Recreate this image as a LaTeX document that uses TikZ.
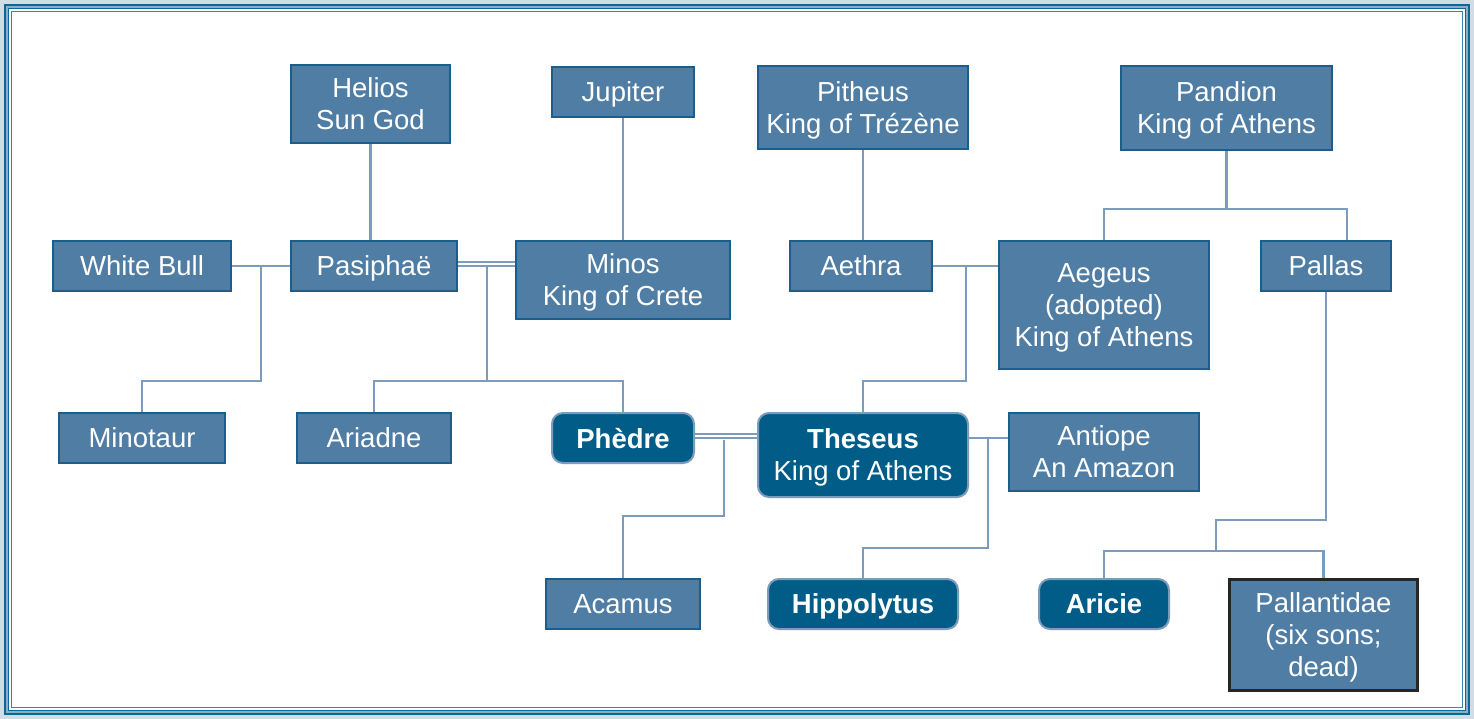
\documentclass[tikz,border=0pt]{standalone}
\usepackage{fontspec}
\setmainfont{Liberation Sans}
\definecolor{boxfill}{HTML}{507DA3}
\definecolor{boxline}{HTML}{1B5E8B}
\definecolor{darkfill}{HTML}{015D88}
\definecolor{darkline}{HTML}{7D9BBA}
\definecolor{connc}{HTML}{7D9BBA}
\definecolor{framebg}{HTML}{D2DCE6}
\definecolor{framedark}{HTML}{06699A}
\definecolor{framemid}{HTML}{8CAEC6}
\tikzset{
  box/.style={draw=boxline, fill=boxfill, line width=2pt, text=white, align=center, inner sep=0pt,
    font=\fontsize{27.5}{32}\selectfont, text depth=-5pt},
  hbox/.style={draw=darkline, fill=darkfill, line width=2pt, rounded corners=11pt, text=white, align=center, inner sep=0pt,
    font=\fontsize{27.5}{32}\selectfont\bfseries, text depth=-5pt},
  conn/.style={draw=connc, line width=2.5pt},
  dbl/.style={draw=connc, line width=2pt, double=white, double distance=2.6pt},
}
\begin{document}
\begin{tikzpicture}[x=1pt,y=-1pt]
\useasboundingbox (0,0) rectangle (1474,719);
% frame
\fill[framebg] (0,0) rectangle (1474,719);
\draw[framedark, line width=2pt] (5,5) rectangle (1469,714);
\fill[framemid] (6,6) rectangle (1468,713);
\draw[framedark, line width=1.3pt] (8.5,8.5) rectangle (1465.5,710.5);
\fill[white] (9.2,9.2) rectangle (1464.8,709.8);
\draw[framedark!80!white, line width=1pt] (11.5,11.5) rectangle (1462.5,707.5);

% nodes
\node[box, minimum width=159, minimum height=78] (helios) at (370.5,104) {Helios\\Sun God};
\node[box, minimum width=142, minimum height=50] (jupiter) at (623,92) {Jupiter};
\node[box, minimum width=210, minimum height=83] (pitheus) at (863,107.5) {Pitheus\\King of Trézène};
\node[box, minimum width=211, minimum height=84] (pandion) at (1226.5,108) {Pandion\\King of Athens};

\node[box, minimum width=178, minimum height=50] (whitebull) at (142,266) {White Bull};
\node[box, minimum width=166, minimum height=50] (pasiphae) at (374,266) {Pasiphaë};
\node[box, minimum width=214, minimum height=78] (minos) at (623,280) {Minos\\King of Crete};
\node[box, minimum width=142, minimum height=50] (aethra) at (861,266) {Aethra};
\node[box, minimum width=210, minimum height=128] (aegeus) at (1104,305) {Aegeus\\(adopted)\\King of Athens};
\node[box, minimum width=130, minimum height=50] (pallas) at (1326,266) {Pallas};

\node[box, minimum width=166, minimum height=50] (minotaur) at (142,438) {Minotaur};
\node[box, minimum width=154, minimum height=50] (ariadne) at (374,438) {Ariadne};
\node[hbox, minimum width=142, minimum height=50] (phedre) at (623,438) {Phèdre};
\node[hbox, minimum width=210, minimum height=84] (theseus) at (863,455) {Theseus\\\mdseries King of Athens};
\node[box, minimum width=190, minimum height=78] (antiope) at (1104,452) {Antiope\\An Amazon};

\node[box, minimum width=154, minimum height=50] (acamus) at (623,604) {Acamus};
\node[hbox, minimum width=190, minimum height=50] (hippolytus) at (863,604) {Hippolytus};
\node[hbox, minimum width=130, minimum height=50] (aricie) at (1104,604) {Aricie};
\node[box, draw=black!85, line width=3pt, minimum width=188, minimum height=111] (pallantidae) at (1323.5,635) {Pallantidae\\(six sons;\\dead)};

% junction coordinates
\coordinate (jwb) at (261,266);
\coordinate (jpm) at (487,264);
\coordinate (jae) at (966,266);
\coordinate (jpt) at (724,437);
\coordinate (jta) at (988,438);
\coordinate (jpd) at (1226.5,209);
\coordinate (jpl) at (1216,551);

% connectors
\draw[conn] (helios.south) -- (helios.south |- pasiphae.north);
\draw[conn] (jupiter) -- (minos);
\draw[conn] (pitheus.south) -- (pitheus.south |- aethra.north);
\draw[conn] (pandion.south) -- (jpd);
\draw[conn] (aegeus.north) |- (jpd) -| ([xshift=21pt]pallas.north);

\draw[conn] (whitebull) -- (pasiphae);
\draw[conn] (minotaur.north) |- (261,381) -- (jwb);

\draw[dbl] (pasiphae.east |- jpm) -- (minos.west |- jpm);
\draw[conn] (ariadne.north) |- (487,381) -| (phedre.north);
\draw[conn] (487,381) -- ([yshift=-2.5pt]jpm);

\draw[conn] (aethra.east) -- (aegeus.west |- aethra.east);
\draw[conn] (theseus.north) |- (966,381) -- (jae);

\draw[dbl] (phedre.east |- 0,436) -- (theseus.west |- 0,436);
\draw[conn] (acamus.north) |- (724,516) -- ([yshift=-2.5pt]jpt);

\draw[conn] (theseus.east |- jta) -- (antiope.west |- jta);
\draw[conn] (hippolytus.north) |- (988,548) -- (jta);

\draw[conn] (pallas.south) -- (1326,520) -| (jpl);
\draw[conn] (aricie.north) |- (jpl) -| (pallantidae.north);
\end{tikzpicture}
\end{document}
